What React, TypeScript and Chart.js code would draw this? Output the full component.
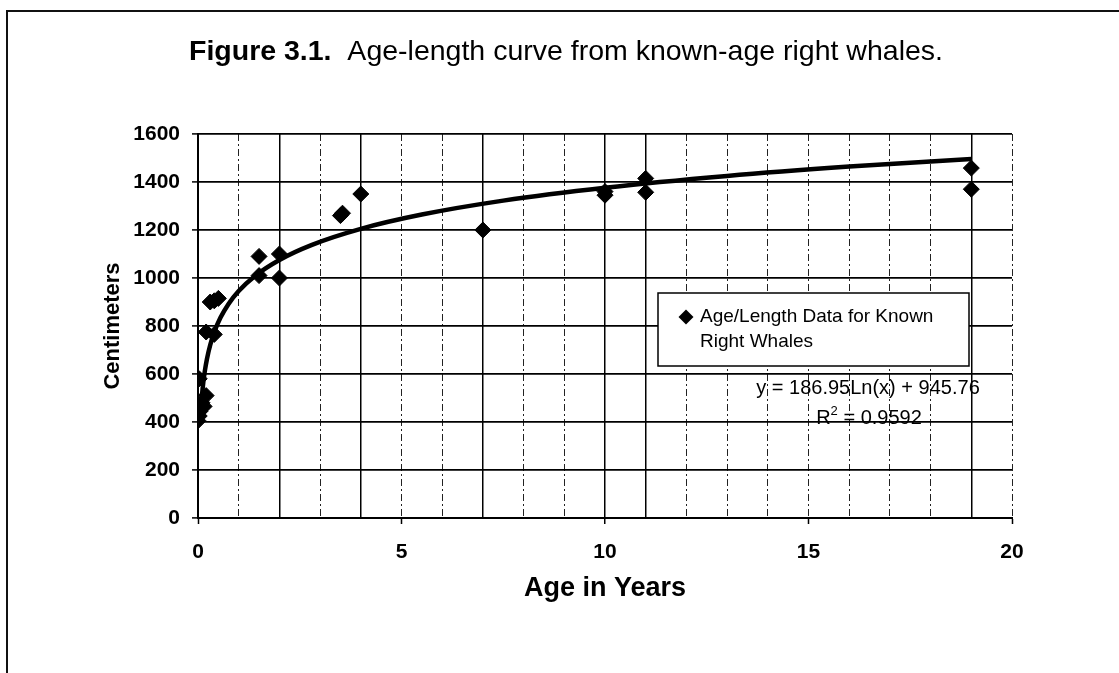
import React, { useEffect, useRef } from "react";
import { Chart, registerables } from "chart.js";

Chart.register(...registerables);

// ---- data ----
const ages = [0.0, 0.03, 0.05, 0.08, 0.1, 0.15, 0.2, 0.03, 0.2, 0.4, 0.3, 0.4, 0.5, 1.5, 1.5, 2, 2, 3.5, 3.55, 4, 7, 10, 10, 11, 11, 19, 19];
const lengths = [405, 425, 445, 460, 480, 465, 510, 580, 775, 765, 900, 905, 915, 1090, 1010, 1100, 1000, 1260, 1270, 1350, 1200, 1345, 1360, 1415, 1357, 1458, 1370];

// logarithmic trendline shown on the chart: y = 186.95 Ln(x) + 945.76
const trendSlope = 186.95;
const trendIntercept = 945.76;
const trendAges = [0.054, 0.065, 0.08, 0.1, 0.13, 0.17, 0.22, 0.3, 0.4, 0.55, 0.75, 1, 1.4, 2, 2.8, 4, 5.5, 7.5, 10, 13, 16, 19];

const xTickLabels = [0, 5, 10, 15, 20];
const yMin = 0;
const yMax = 1600;
const yStep = 200;
const xMin = 0;
const xMax = 20;

const titleBold = "Figure 3.1.";
const titleRest = "  Age-length curve from known-age right whales.";
const xTitle = "Age in Years";
const yTitle = "Centimeters";
const legendLines = ["Age/Length Data for Known", "Right Whales"];
const eqLine = "y = 186.95Ln(x) + 945.76";
const r2Value = "0.9592";

const FONT = "'Liberation Sans', Arial, Helvetica, sans-serif";

// whole-year ages that carry measurements (their vertical grid lines print solid in the source)
const solidGridYears = Array.from(new Set(ages.filter((a) => a > 0 && Number.isInteger(a))));

const decorPlugin = {
  id: "decor",
  afterDraw(chart: any) {
    const ctx = chart.ctx as CanvasRenderingContext2D;
    const area = chart.chartArea;
    ctx.save();
    ctx.fillStyle = "#000";
    ctx.textBaseline = "middle";

    // title
    ctx.font = `bold 28.5px ${FONT}`;
    const wb = ctx.measureText(titleBold).width;
    ctx.font = `28.5px ${FONT}`;
    const wr = ctx.measureText(titleRest).width;
    const cx = (area.left + area.right) / 2 - 39;
    const tx = cx - (wb + wr) / 2;
    ctx.textAlign = "left";
    ctx.font = `bold 28.5px ${FONT}`;
    ctx.fillText(titleBold, tx, 52);
    ctx.font = `28.5px ${FONT}`;
    ctx.fillText(titleRest, tx + wb, 52);

    // x axis title
    ctx.textAlign = "center";
    ctx.font = `bold 27px ${FONT}`;
    ctx.fillText(xTitle, (area.left + area.right) / 2, 589);

    // y axis title
    ctx.save();
    ctx.translate(113, (area.top + area.bottom) / 2);
    ctx.rotate(-Math.PI / 2);
    ctx.font = `bold 22px ${FONT}`;
    ctx.fillText(yTitle, 0, 0);
    ctx.restore();

    // legend box
    const bx = 658, by = 293, bw = 311, bh = 73;
    ctx.fillStyle = "#fff";
    ctx.fillRect(bx, by, bw, bh);
    ctx.strokeStyle = "#000";
    ctx.lineWidth = 1.5;
    ctx.strokeRect(bx, by, bw, bh);
    ctx.fillStyle = "#000";
    const dx = 686, dy = 317, r = 7.5;
    ctx.beginPath();
    ctx.moveTo(dx - r, dy);
    ctx.lineTo(dx, dy - r);
    ctx.lineTo(dx + r, dy);
    ctx.lineTo(dx, dy + r);
    ctx.closePath();
    ctx.fill();
    ctx.textAlign = "left";
    ctx.font = `19px ${FONT}`;
    ctx.fillText(legendLines[0], 700, 317);
    ctx.fillText(legendLines[1], 700, 342);

    // equation
    ctx.textAlign = "center";
    ctx.font = `20px ${FONT}`;
    ctx.fillText(eqLine, 868, 388);
    const rMain = "R";
    const rTail = " = " + r2Value;
    const w1 = ctx.measureText(rMain).width;
    ctx.font = `13px ${FONT}`;
    const w2 = ctx.measureText("2").width;
    ctx.font = `20px ${FONT}`;
    const w3 = ctx.measureText(rTail).width;
    const sx = 869 - (w1 + w2 + w3) / 2;
    ctx.textAlign = "left";
    ctx.fillText(rMain, sx, 418);
    ctx.font = `13px ${FONT}`;
    ctx.fillText("2", sx + w1, 411);
    ctx.font = `20px ${FONT}`;
    ctx.fillText(rTail, sx + w1 + w2, 418);
    ctx.restore();
  },
};

export default function App() {
  const ref = useRef<HTMLCanvasElement | null>(null);

  useEffect(() => {
    if (!ref.current) return;
    const points = ages.map((a, i) => ({ x: a, y: lengths[i] }));
    const trend = trendAges.map((a) => ({ x: a, y: trendSlope * Math.log(a) + trendIntercept }));

    const chart = new Chart(ref.current, {
      type: "scatter",
      data: {
        datasets: [
          {
            label: "Log. trend",
            data: trend,
            showLine: true,
            borderColor: "#000",
            borderWidth: 4.5,
            pointRadius: 0,
            cubicInterpolationMode: "monotone",
            order: 2,
          } as any,
          {
            label: "Age/Length Data for Known Right Whales",
            data: points,
            pointStyle: "rectRot",
            pointRadius: 8,
            backgroundColor: "#000",
            borderColor: "#000",
            borderWidth: 1,
            order: 1,
          },
        ],
      },
      options: {
        responsive: false,
        animation: false,
        devicePixelRatio: 1,
        layout: { padding: { left: 0, top: 134, right: 107, bottom: 0 } },
        plugins: {
          legend: { display: false },
          title: { display: false },
          tooltip: { enabled: false },
        },
        scales: {
          x: {
            type: "linear",
            min: xMin,
            max: xMax,
            afterFit: (s: any) => {
              s.height = 155;
            },
            afterBuildTicks: (s: any) => {
              const t = [];
              for (let v = xMin; v <= xMax; v += 1) t.push({ value: v });
              s.ticks = t;
            },
            ticks: {
              autoSkip: false,
              maxRotation: 0,
              padding: 16,
              color: "#000",
              font: { family: FONT, size: 21, weight: "bold" },
              callback: (v: any) => (xTickLabels.includes(Number(v)) ? String(v) : ""),
            },
            grid: {
              color: (c: any) => (c.tick && solidGridYears.includes(c.tick.value) ? "#000" : "#222"),
              lineWidth: (c: any) => (c.tick && solidGridYears.includes(c.tick.value) ? 1.5 : 1),
              tickLength: 6,
              tickColor: (c: any) => (c.tick && xTickLabels.includes(c.tick.value) ? "#000" : "rgba(0,0,0,0)"),
              tickWidth: 1.5,
            },
            border: {
              display: true,
              color: "#000",
              width: 2,
              dash: (c: any) => (c.tick && solidGridYears.includes(c.tick.value) ? [] : [7, 3, 2, 3]),
            },
          } as any,
          y: {
            type: "linear",
            min: yMin,
            max: yMax,
            afterFit: (s: any) => {
              s.width = 198;
            },
            ticks: {
              stepSize: yStep,
              padding: 12,
              color: "#000",
              font: { family: FONT, size: 21, weight: "bold" },
              callback: (v: any) => String(v),
            },
            grid: {
              color: "#000",
              lineWidth: 1.8,
              tickLength: 6,
              tickColor: "#000",
              tickWidth: 1.5,
            },
            border: { display: true, color: "#000", width: 2 },
          } as any,
        },
      },
      plugins: [decorPlugin],
    });
    return () => chart.destroy();
  }, []);

  return (
    <div
      style={{
        position: "absolute",
        left: 0,
        top: 0,
        width: 1119,
        height: 673,
        background: "#fff",
        overflow: "hidden",
      }}
    >
      <div
        style={{
          position: "absolute",
          left: 6,
          top: 10,
          width: 1200,
          height: 700,
          borderLeft: "2px solid #111",
          borderTop: "2px solid #111",
        }}
      />
      <canvas ref={ref} width={1119} height={673} style={{ position: "absolute", left: 0, top: 0 }} />
    </div>
  );
}
